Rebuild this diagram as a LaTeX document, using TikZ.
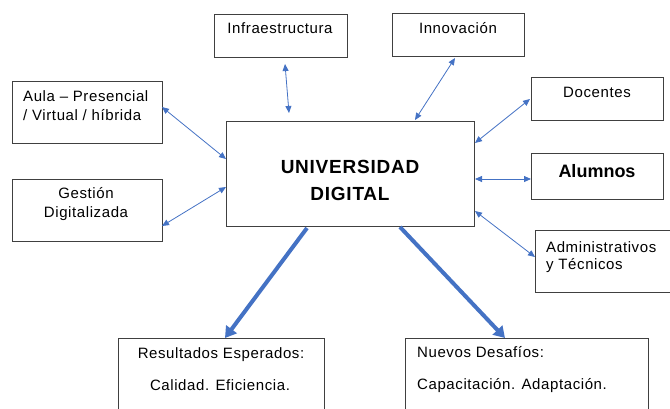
\documentclass[tikz,border=0pt]{standalone}
\usepackage{fontspec}
\setmainfont{Liberation Sans}
\newfontfamily\lsr[LetterSpace=4]{Liberation Sans}
\newfontfamily\lsb[LetterSpace=4]{Liberation Sans Bold}
\usetikzlibrary{arrows.meta}
\definecolor{arrblue}{HTML}{4472C4}
\definecolor{boxgray}{HTML}{404040}
\begin{document}
\begin{tikzpicture}[x=1pt,y=-1pt,
  box/.style={draw=boxgray,line width=0.9pt},
  txt/.style={inner sep=0pt,anchor=base,font=\lsr\fontsize{15}{19}\selectfont},
  txtl/.style={txt,anchor=base west},
  thin/.style={draw=arrblue,line width=0.8pt,{Triangle[length=7pt,width=6pt]}-{Triangle[length=7pt,width=6pt]}},
  thick/.style={draw=arrblue,line width=4pt,-{Triangle[length=11pt,width=13pt]}}]
\useasboundingbox (0,0) rectangle (670,408);
% boxes
\path[box] (214,14) rectangle (347,57);
\path[box] (392,13) rectangle (524,56);
\path[box] (12,81) rectangle (162,143);
\path[box] (12,179) rectangle (162,241);
\path[box] (226,121) rectangle (474,226);
\path[box] (531,77) rectangle (663,120);
\path[box] (531,153) rectangle (663,199);
\path[box] (535,230) rectangle (675,292);
\path[box] (118,338) rectangle (324,415);
\path[box] (405,338) rectangle (648,415);
% texts
\node[txt] (tinfra) at (280,33) {Infraestructura};
\node[txt] (tinnov) at (458,33) {Innovación};
\node[txtl] (taula1) at (23,101) {Aula – Presencial};
\node[txtl] (taula2) at (23,120) {/ Virtual / híbrida};
\node[txt] (tgest1) at (86,198) {Gestión};
\node[txt] (tgest2) at (86,217) {Digitalizada};
\node[txt,font=\lsb\fontsize{19}{24}\selectfont] (tuni1) at (350,173) {UNIVERSIDAD};
\node[txt,font=\lsb\fontsize{19}{24}\selectfont] (tuni2) at (350,200) {DIGITAL};
\node[txt] (tdoc) at (597,97) {Docentes};
\node[txt,font=\bfseries\fontsize{18}{22}\selectfont] (talum) at (597,177) {Alumnos};
\node[txtl] (tadm1) at (546,252) {Administrativos};
\node[txtl] (tadm2) at (546,269) {y Técnicos};
\node[txt] (tres1) at (221,358) {Resultados Esperados:};
\node[txt] (tres2) at (220,390) {Calidad. Eficiencia.};
\node[txtl] (tnue1) at (417,357) {Nuevos Desafíos:};
\node[txtl] (tnue2) at (417,389) {Capacitación. Adaptación.};
% arrow end points
\coordinate (a1) at (285,64);   \coordinate (b1) at (289,113);
\coordinate (a2) at (455,58);   \coordinate (b2) at (415,120);
\coordinate (a3) at (530,99);   \coordinate (b3) at (475,143);
\coordinate (a4) at (475,179);  \coordinate (b4) at (531,179);
\coordinate (a5) at (475,211);  \coordinate (b5) at (535,257);
\coordinate (a6) at (162,107);  \coordinate (b6) at (226,159);
\coordinate (a7) at (226,187);  \coordinate (b7) at (162,226);
\coordinate (a8) at (307,228);  \coordinate (b8) at (225,338);
\coordinate (a9) at (400,227);  \coordinate (b9) at (505,338);
% connectors
\draw[thin] (a1) -- (b1);
\draw[thin] (a2) -- (b2);
\draw[thin] (a3) -- (b3);
\draw[thin] (a4) -- (b4);
\draw[thin] (a5) -- (b5);
\draw[thin] (a6) -- (b6);
\draw[thin] (a7) -- (b7);
\draw[thick] (a8) -- (b8);
\draw[thick] (a9) -- (b9);
\end{tikzpicture}
\end{document}
